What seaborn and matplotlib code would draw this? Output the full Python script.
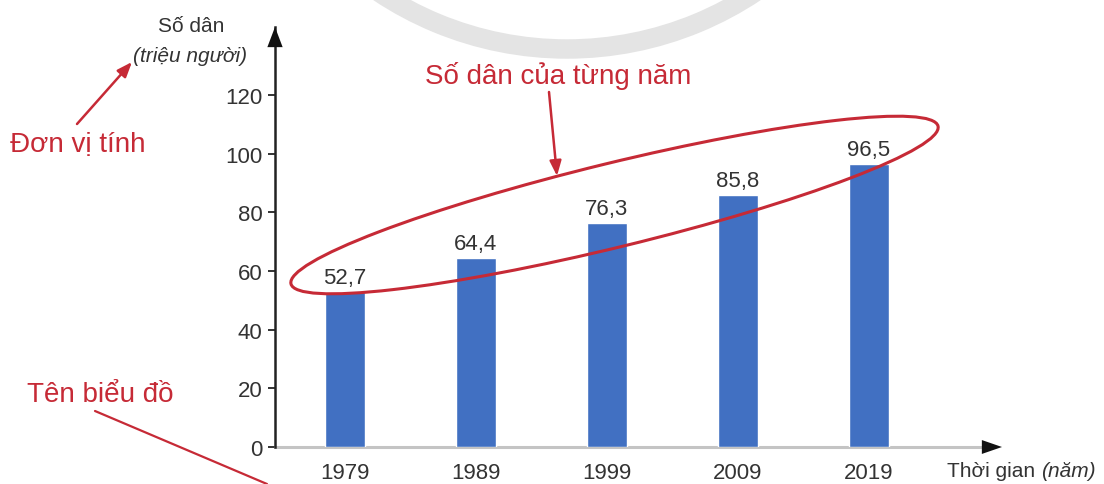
import matplotlib
matplotlib.use("Agg")
import matplotlib.pyplot as plt
from matplotlib.patches import Ellipse, Arc
import seaborn as sns
import pandas as pd

# data
years = ["1979", "1989", "1999", "2009", "2019"]
population = [52.7, 64.4, 76.3, 85.8, 96.5]
y_ticks = [0, 20, 40, 60, 80, 100, 120]
value_labels = [f"{v:.1f}".replace(".", ",") for v in population]

BLUE = "#4170c2"
RED = "#c62a36"
TXT = "#333333"

sns.set_style("white")
plt.rcParams["font.family"] = ["Liberation Sans", "DejaVu Sans"]

W, H = 1104, 485
fig = plt.figure(figsize=(W / 100, H / 100), dpi=100)

# plot box in pixels: left 275, right 1002, bottom 448, top 28
ax = fig.add_axes([275 / W, (H - 448) / H, (1002 - 275) / W, (448 - 28) / H])

df = pd.DataFrame({"year": years, "pop": population})
sns.barplot(data=df, x="year", y="pop", color=BLUE, width=0.305,
            saturation=1, ax=ax, zorder=3)
ax.bar_label(ax.containers[0], labels=value_labels, padding=3,
             fontsize=16, color=TXT)

ax.set_xlim(-0.534, 5.015)
ax.set_ylim(0, 143.2)
ax.set_xlabel("")
ax.set_ylabel("")
ax.set_yticks(y_ticks)

for s in ["top", "right", "bottom"]:
    ax.spines[s].set_visible(False)
ax.spines["left"].set_color("#222222")
ax.spines["left"].set_linewidth(1.8)

ax.tick_params(axis="y", left=True, length=5, width=1.4, color="#333333",
               pad=4, labelsize=16, labelcolor=TXT)
ax.tick_params(axis="x", bottom=False, length=0, pad=11, labelsize=16,
               labelcolor=TXT)

# axis arrows
ax.plot([-0.534, 4.88], [0, 0], color="#c4c4c4", lw=2.2, clip_on=False, zorder=2)
ax.annotate("", xy=(1, 0), xycoords="axes fraction", xytext=(0.96, 0),
            arrowprops=dict(arrowstyle="-|>,head_length=1.45,head_width=0.5",
                            color="#111111", lw=0, mutation_scale=10,
                            shrinkA=0, shrinkB=0))
ax.annotate("", xy=(0, 1), xycoords="axes fraction", xytext=(0, 0.9),
            arrowprops=dict(arrowstyle="-|>,head_length=1.45,head_width=0.55",
                            color="#111111", lw=0, mutation_scale=10,
                            shrinkA=0, shrinkB=0))

# overlay in pixel coordinates for the annotations
ov = fig.add_axes([0, 0, 1, 1], zorder=5)
ov.set_xlim(0, W)
ov.set_ylim(H, 0)
ov.axis("off")
ov.patch.set_alpha(0)

# faint watermark arc at the top
ov.add_patch(Arc((567, -290), 680, 680, color="#e4e4e4", lw=14))

ov.text(191, 27, "Số dân", fontsize=15, color=TXT, ha="center", va="center")
ov.text(190, 57, "(triệu người)", fontsize=15, color=TXT, style="italic",
        ha="center", va="center")
ov.text(947, 472, "Thời gian", fontsize=15, color=TXT, ha="left", va="center")
ov.text(1041, 472, "(năm)", fontsize=15, color=TXT, style="italic",
        ha="left", va="center")

ov.text(78, 145, "Đơn vị tính", fontsize=20, color=RED, ha="center", va="center")
ov.text(100, 395, "Tên biểu đồ", fontsize=20, color=RED, ha="center", va="center")
ov.text(558, 76, "Số dân của từng năm", fontsize=20, color=RED,
        ha="center", va="center")

arrow_kw = dict(arrowstyle="-|>,head_length=0.9,head_width=0.35", color=RED,
                lw=1.8, mutation_scale=10, shrinkA=0, shrinkB=0)
ov.annotate("", xy=(132, 63), xytext=(77, 125), arrowprops=arrow_kw)
ov.annotate("", xy=(557, 177), xytext=(549, 93), arrowprops=arrow_kw)
ov.plot([95, 267], [412, 485], color=RED, lw=1.6)

ov.add_patch(Ellipse((614.5, 206), 666, 84, angle=-13.7, fill=False,
                     ec=RED, lw=2.2))

fig.savefig("out.png", dpi=100)
plt.close(fig)
